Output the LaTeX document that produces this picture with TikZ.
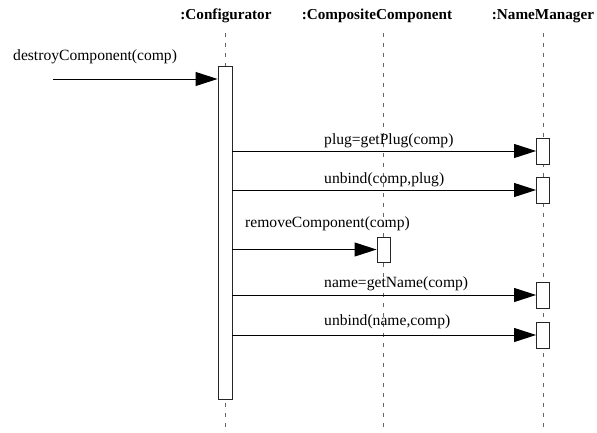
\documentclass[tikz,border=0pt]{standalone}
\usepackage{fontspec}
\setmainfont{Liberation Serif}
\usetikzlibrary{arrows.meta}
\begin{document}
\begin{tikzpicture}[x=1pt,y=-1pt,
  every node/.style={font=\fontsize{15.6}{17}\selectfont},
  obj/.style={font=\fontsize{15.2}{17}\selectfont\bfseries, inner sep=0pt},
  lifeline/.style={draw=black!60, line width=0.9pt, dash pattern=on 4pt off 6pt},
  act/.style={draw=black!85, fill=white, line width=0.9pt, minimum width=13pt, inner sep=0pt},
  msg/.style={draw=black, line width=0.9pt, -{Triangle[length=22pt,width=14pt]}},
  lbl/.style={inner sep=0pt, anchor=west}]
\useasboundingbox (0,0) rectangle (597,433);

% participants
\node[obj] (cfg) at (226,16) {:Configurator};
\node[obj] (cc)  at (377,16) {:CompositeComponent};
\node[obj] (nm)  at (543,16) {:NameManager};

% lifelines
\coordinate (cfgtop) at (225,33);  \coordinate (cfgbot) at (225,433);
\coordinate (cctop)  at (383,33);  \coordinate (ccbot)  at (383,433);
\coordinate (nmtop)  at (543,33);  \coordinate (nmbot)  at (543,433);
\draw[lifeline] (cfgtop) -- (cfgbot);
\draw[lifeline] (cctop) -- (ccbot);
\draw[lifeline] (nmtop) -- (nmbot);

% activation bars
\node[act, minimum width=14pt, minimum height=333pt] (cfgact) at (225,233) {};
\node[act, minimum height=26pt] (nm1) at (543,151) {};
\node[act, minimum height=26pt] (nm2) at (543,190) {};
\node[act, minimum height=25pt] (cc1) at (383.5,249.5) {};
\node[act, minimum height=26pt] (nm3) at (543,295) {};
\node[act, minimum height=26pt] (nm4) at (543,335) {};

% incoming call
\coordinate (src) at (53,79);
\draw[msg] (src) -- (cfgact.west |- src);
\node[lbl] (l0) at (13,57) {destroyComponent(comp)};

% calls from the configurator
\draw[msg] (cfgact.east |- nm1) -- (nm1.west);
\node[lbl] (l1) at (324,141) {plug=getPlug(comp)};
\draw[msg] (cfgact.east |- nm2) -- (nm2.west);
\node[lbl] (l2) at (324,180) {unbind(comp,plug)};
\draw[msg] (cfgact.east |- cc1) -- (cc1.west);
\node[lbl] (l3) at (245,224) {removeComponent(comp)};
\draw[msg] (cfgact.east |- nm3) -- (nm3.west);
\node[lbl] (l4) at (324,284) {name=getName(comp)};
\draw[msg] (cfgact.east |- nm4) -- (nm4.west);
\node[lbl] (l5) at (324,322) {unbind(name,comp)};
\end{tikzpicture}
\end{document}
